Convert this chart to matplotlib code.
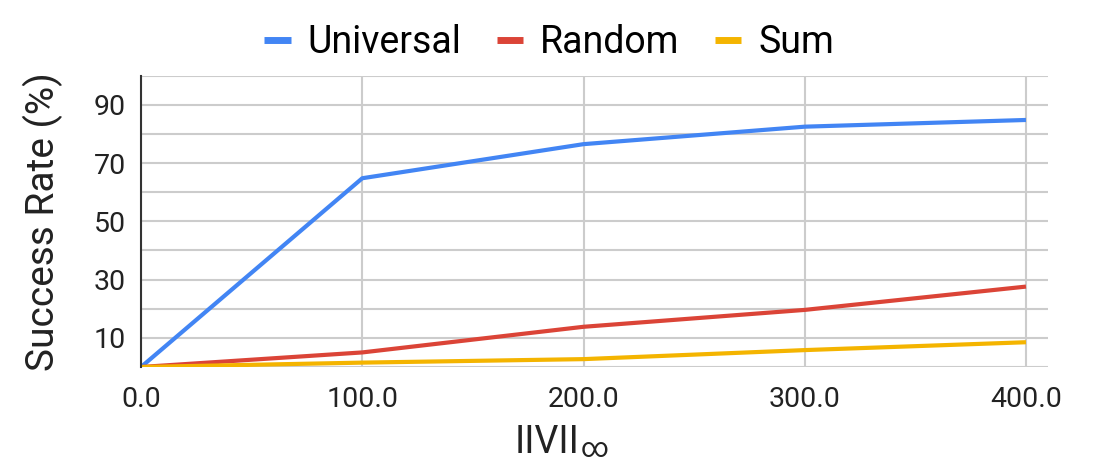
import matplotlib
matplotlib.use("Agg")
import matplotlib.pyplot as plt

plt.rcParams['font.family'] = ['Roboto', 'DejaVu Sans']

# data
budget = [0, 100, 200, 300, 400]
universal = [0, 64.8, 76.5, 82.5, 84.8]
random_ = [0, 5.0, 13.8, 19.6, 27.6]
summed = [0, 1.5, 2.7, 5.8, 8.5]
yticks = [10, 30, 50, 70, 90]
xticks = [0, 100, 200, 300, 400]

fig = plt.figure(figsize=(10.96, 4.69), dpi=100)
ax = fig.add_axes([0.1287, 0.2175, 0.8276, 0.6211])

ax.plot(budget, universal, color='#4285F4', lw=3, label='Universal', solid_capstyle='butt')
ax.plot(budget, random_, color='#DB4437', lw=3, label='Random', solid_capstyle='butt')
ax.plot(budget, summed, color='#F4B400', lw=3, label='Sum', solid_capstyle='butt')

ax.set_xlim(0, 410)
ax.set_ylim(0, 100)
ax.set_xticks(xticks)
ax.set_xticklabels([f'{v:.1f}' for v in xticks])
ax.set_yticks(yticks)
ax.set_yticks(range(0, 101, 10), minor=True)

ax.grid(True, which='both', axis='y', color='#cccccc', lw=1.5)
ax.grid(True, which='major', axis='x', color='#cccccc', lw=1.5)
ax.set_axisbelow(True)
for s in ['top', 'right', 'bottom']:
    ax.spines[s].set_visible(False)
ax.spines['left'].set_color('#333333')
ax.spines['left'].set_linewidth(1.5)
ax.tick_params(which='both', length=0)
ax.tick_params(axis='y', labelsize=20.5, pad=11, colors='#222222')
ax.tick_params(axis='x', labelsize=20.5, pad=14, colors='#222222')

ax.set_ylabel('Success Rate (%)', fontsize=28, color='#222222')
ax.yaxis.set_label_coords(-0.086, 0.5)

# x label: IIVII with a subscript infinity
fig.text(580 / 1096, 1 - 453 / 469, 'IIVII', fontsize=27, color='#222222',
         ha='right', va='baseline')
fig.text(581 / 1096, 1 - 457 / 469, '\u221e', fontsize=19.5, color='#222222',
         ha='left', va='baseline')

leg = ax.legend(loc='center', bbox_to_anchor=(0.45, 1.115), ncol=3, frameon=False,
                fontsize=27, handlelength=0.7, handletextpad=0.45, columnspacing=0.95)
for h in leg.legend_handles:
    h.set_linewidth(5)

fig.savefig('out.png', dpi=100)
